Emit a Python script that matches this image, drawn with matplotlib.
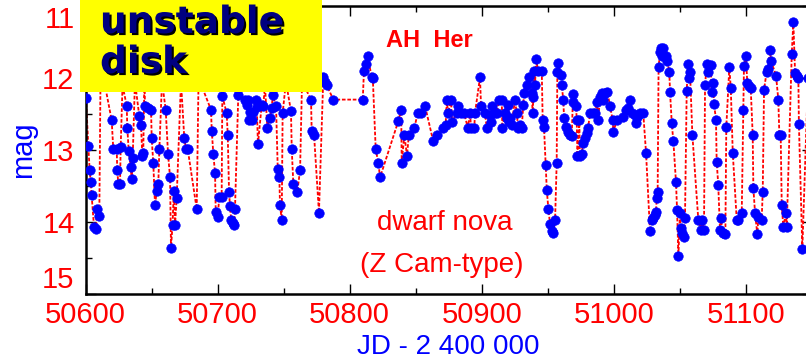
import matplotlib

matplotlib.use('Agg')

import matplotlib.pyplot as plt
import matplotlib.ticker as ticker
import matplotlib.patheffects as pe
from matplotlib.patches import Rectangle

# AH Her light curve, JD - 2400000 vs visual magnitude
jd = [
    50600.2, 50602.0, 50603.0, 50603.8, 50604.5, 50606.3, 50607.8, 50608.6, 50610.3, 50611.2,
    50614.6, 50619.7, 50620.9, 50623.5, 50623.9, 50624.7, 50626.0, 50626.5, 50627.9, 50631.1,
    50631.5, 50632.6, 50634.1, 50634.8, 50635.6, 50637.3, 50640.6, 50641.9, 50642.9, 50643.6,
    50644.5, 50644.9, 50647.4, 50649.5, 50650.0, 50651.2, 50652.5, 50653.8, 50655.0, 50655.8,
    50657.8, 50660.6, 50662.4, 50663.9, 50664.6, 50665.8, 50666.7, 50667.7, 50668.9, 50672.2,
    50674.7, 50676.0, 50677.3, 50684.1, 50685.5, 50694.9, 50695.5, 50696.7, 50698.0, 50698.5,
    50700.0, 50701.2, 50703.0, 50703.5, 50706.8, 50707.6, 50708.6, 50709.3, 50710.2, 50711.4,
    50712.4, 50713.1, 50715.6, 50720.7, 50722.0, 50723.2, 50723.6, 50724.5, 50725.8, 50727.0,
    50729.0, 50729.6, 50730.5, 50733.3, 50734.5, 50735.8, 50737.6, 50739.6, 50740.9, 50741.7,
    50744.2, 50745.5, 50746.7, 50747.2, 50748.5, 50749.2, 50751.7, 50755.5, 50756.1, 50757.3,
    50760.3, 50762.4, 50763.9, 50770.7, 50771.2, 50773.0, 50776.7, 50780.0, 50781.3, 50782.6,
    50787.6, 50809.9, 50810.8, 50812.4, 50813.6, 50816.7, 50817.5, 50819.7, 50821.7, 50823.0,
    50836.8, 50839.0, 50839.4, 50841.4, 50843.4, 50844.8, 50849.0, 50851.5, 50854.0, 50857.1,
    50863.3, 50866.4, 50870.9, 50872.7, 50873.5, 50874.5, 50876.8, 50877.5, 50881.1, 50882.3,
    50884.3, 50886.8, 50889.4, 50891.2, 50891.9, 50894.4, 50894.9, 50898.7, 50899.5, 50902.5,
    50903.8, 50906.3, 50906.8, 50907.6, 50910.1, 50911.4, 50913.1, 50915.2, 50915.6, 50917.7,
    50919.2, 50920.2, 50920.6, 50921.5, 50922.7, 50925.2, 50926.5, 50927.7, 50929.0, 50930.3,
    50931.5, 50932.1, 50934.1, 50936.1, 50937.9, 50938.6, 50939.1, 50939.6, 50940.4, 50941.2,
    50942.7, 50945.5, 50946.2, 50947.2, 50948.5, 50949.3, 50950.5, 50951.8, 50953.1, 50954.3,
    50955.6, 50956.8, 50957.3, 50958.0, 50959.9, 50960.6, 50961.8, 50962.4, 50963.9, 50965.6,
    50966.9, 50968.2, 50969.0, 50969.4, 50971.5, 50972.0, 50972.5, 50974.0, 50974.3, 50975.8,
    50976.8, 50978.3, 50979.6, 50980.6, 50982.1, 50984.1, 50985.8, 50987.1, 50988.3, 50989.6,
    50990.9, 50991.9, 50993.4, 50995.2, 50997.2, 50999.3, 50999.7, 51002.3, 51007.3, 51009.3,
    51011.1, 51012.4, 51013.6, 51016.2, 51016.9, 51017.4, 51018.6, 51019.9, 51022.4, 51024.5,
    51027.5, 51028.8, 51030.0, 51031.3, 51032.0, 51032.6, 51033.3, 51034.0, 51035.1, 51035.5,
    51036.4, 51037.6, 51039.6, 51040.6, 51042.1, 51042.7, 51044.0, 51045.2, 51047.2, 51048.0,
    51049.0, 51050.2, 51050.8, 51052.0, 51053.3, 51054.0, 51055.3, 51056.3, 51057.1, 51057.8,
    51059.6, 51064.1, 51065.9, 51066.7, 51068.4, 51069.2, 51070.5, 51071.7, 51073.5, 51074.3,
    51075.5, 51076.0, 51077.5, 51078.0, 51079.2, 51080.5, 51081.1, 51082.8, 51084.6, 51085.3,
    51087.6, 51088.7, 51090.2, 51093.2, 51094.4, 51097.0, 51098.2, 51098.7, 51100.2, 51101.2,
    51102.5, 51103.8, 51105.3, 51105.8, 51107.1, 51108.8, 51109.6, 51112.1, 51112.9, 51113.9,
    51115.9, 51117.1, 51118.4, 51119.2, 51123.0, 51124.7, 51125.5, 51126.5, 51127.3, 51128.5,
    51130.5, 51131.1, 51134.9, 51136.1, 51137.4, 51138.7, 51139.9, 51140.3, 51142.9, 51147.2,
]
mag = [
    12.28, 12.95, 13.28, 13.45, 13.63, 14.07, 14.10, 13.82, 13.92, 12.05,
    12.10, 12.59, 12.99, 12.99, 13.28, 13.47, 13.47, 12.96, 12.10, 12.39,
    12.69, 13.01, 13.23, 13.40, 13.11, 12.05, 12.53, 12.65, 13.09, 13.04,
    12.00, 12.39, 12.42, 12.44, 12.84, 13.18, 13.77, 13.57, 13.47, 12.99,
    12.05, 12.44, 13.06, 13.38, 14.36, 14.04, 13.57, 14.04, 13.67, 12.05,
    12.84, 12.99, 12.99, 13.82, 12.00, 12.44, 12.73, 13.06, 13.32, 13.86,
    13.93, 13.65, 13.65, 12.25, 12.49, 12.79, 13.58, 13.78, 13.97, 14.01,
    14.04, 13.82, 12.24, 12.31, 12.38, 12.31, 12.59, 12.47, 12.58, 12.47,
    12.31, 12.40, 12.92, 12.38, 12.39, 12.10, 12.69, 12.55, 12.42, 12.24,
    12.39, 13.27, 13.37, 13.77, 13.97, 12.49, 12.05, 12.46, 12.99, 13.47,
    13.58, 13.28, 12.05, 12.30, 12.74, 12.79, 13.87, 11.99, 12.05, 12.10,
    12.30, 12.30, 11.90, 11.81, 11.70, 11.99, 12.00, 12.99, 13.18, 13.38,
    12.60, 12.44, 13.18, 12.79, 13.08, 12.79, 12.69, 12.49, 12.49, 12.39,
    12.88, 12.79, 12.69, 12.65, 12.30, 12.49, 12.30, 12.61, 12.49, 12.39,
    12.49, 12.49, 12.69, 12.49, 12.69, 12.69, 12.49, 11.99, 12.39, 12.49,
    12.69, 12.51, 12.61, 12.39, 12.49, 12.49, 12.30, 12.30, 12.69, 12.49,
    12.56, 12.38, 12.61, 12.56, 12.65, 12.30, 12.49, 12.69, 12.65, 12.70,
    12.38, 12.21, 12.10, 11.99, 12.21, 12.49, 12.26, 11.90, 12.10, 11.73,
    11.90, 11.90, 12.58, 12.68, 13.21, 13.55, 13.82, 14.03, 14.13, 14.15,
    13.97, 13.18, 11.91, 11.79, 11.96, 12.10, 12.30, 12.56, 12.68, 12.75,
    12.79, 12.81, 12.34, 12.22, 12.39, 12.59, 13.08, 12.59, 13.08, 13.05,
    12.90, 12.83, 12.76, 12.69, 12.49, 12.49, 12.49, 12.33, 12.58, 12.26,
    12.21, 12.31, 12.21, 12.19, 12.39, 12.59, 12.75, 12.59, 12.54, 12.44,
    12.42, 12.30, 12.49, 12.51, 12.63, 12.54, 12.51, 12.49, 12.49, 13.04,
    14.13, 13.97, 13.95, 13.90, 13.86, 13.67, 13.58, 11.85, 11.64, 11.59,
    11.69, 11.59, 11.70, 11.77, 11.91, 12.20, 12.63, 12.88, 13.45, 13.83,
    14.47, 13.88, 14.08, 14.15, 14.21, 13.95, 12.18, 11.81, 12.00, 11.91,
    12.79, 13.97, 14.11, 13.97, 14.11, 12.10, 11.81, 11.91, 11.82, 12.19,
    12.07, 12.36, 12.58, 13.16, 13.48, 14.11, 13.94, 14.15, 14.17, 12.68,
    11.85, 12.14, 13.04, 13.97, 13.97, 13.88, 12.45, 11.83, 11.70, 12.07,
    12.11, 12.14, 12.79, 13.53, 13.88, 14.17, 13.93, 13.97, 13.58, 12.16,
    11.91, 11.88, 11.61, 11.76, 11.97, 12.30, 12.79, 12.79, 13.76, 14.07,
    13.87, 14.07, 11.66, 11.22, 11.93, 11.97, 12.00, 12.64, 14.37, 12.00,
]

x_ticks = [50600, 50700, 50800, 50900, 51000, 51100]
y_ticks = [11, 12, 13, 14, 15]

RED = '#ff0000'
BLUE = '#0000ff'

plt.rcParams['font.family'] = ['Liberation Sans', 'DejaVu Sans']

fig = plt.figure(figsize=(8.06, 3.61), dpi=100)
ax = fig.add_axes([85.7 / 806, 67 / 361, 726 / 806, 288 / 361])

ax.plot(jd, mag, color=RED, lw=1.3, ls=(0, (2.0, 1.0)), zorder=2)
ax.plot(jd, mag, ls='none', marker='o', ms=6.8, mfc=BLUE, mec=BLUE, mew=0.5, zorder=3)

ax.set_xlim(50600, 51150)
ax.set_ylim(15, 11)

ax.set_xticks(x_ticks)
ax.set_xticklabels([str(t) for t in x_ticks])
ax.xaxis.set_minor_locator(ticker.MultipleLocator(50))
ax.set_yticks(y_ticks)
ax.set_yticklabels([str(t) for t in y_ticks])
ax.yaxis.set_minor_locator(ticker.MultipleLocator(0.5))

ax.tick_params(which='both', direction='in', top=True, right=True, colors='black',
               labelcolor=RED, labelsize=21)
ax.tick_params(which='major', length=7, width=1.0)
ax.tick_params(which='minor', length=4, width=1.0)
ax.tick_params(axis='x', pad=5)
ax.tick_params(axis='y', pad=8)
for spine in ax.spines.values():
    spine.set_linewidth(1.8)

# keep the end labels of the magnitude axis inside the frame
fig.canvas.draw()
ylabels = ax.get_yticklabels()
for lab in ylabels:
    if lab.get_text() == '11':
        lab.set_va('top')
    elif lab.get_text() == '15':
        lab.set_va('bottom')

ax.set_xlabel('JD - 2 400 000', color=BLUE, fontsize=20, labelpad=4)
ax.set_ylabel('mag', color=BLUE, fontsize=21, labelpad=4)

ax.text(0.474, 0.88, 'AH  Her', transform=ax.transAxes, color=RED, fontsize=17,
        fontweight='bold', ha='center', va='center')
ax.text(0.494, 0.247, 'dwarf nova', transform=ax.transAxes, color=RED, fontsize=20,
        ha='center', va='center')
ax.text(0.49, 0.101, '(Z Cam-type)', transform=ax.transAxes, color=RED, fontsize=20,
        ha='center', va='center')

# yellow label box over the upper-left corner
fig.add_artist(Rectangle((80 / 806, 1 - 92 / 361), 242 / 806, 92 / 361,
                         transform=fig.transFigure, facecolor='#ffff00',
                         edgecolor='none', zorder=10))
shadow = [pe.withSimplePatchShadow(offset=(1.5, -1.5), shadow_rgbFace='black', alpha=1.0)]
for word, base in [('unstable', 33), ('disk', 73)]:
    fig.text(100 / 806, 1 - base / 361, word, family='DejaVu Sans', fontweight='bold',
             fontsize=27, color='#000080', va='baseline', ha='left', zorder=11,
             path_effects=shadow)

fig.savefig('out.png', dpi=100)
